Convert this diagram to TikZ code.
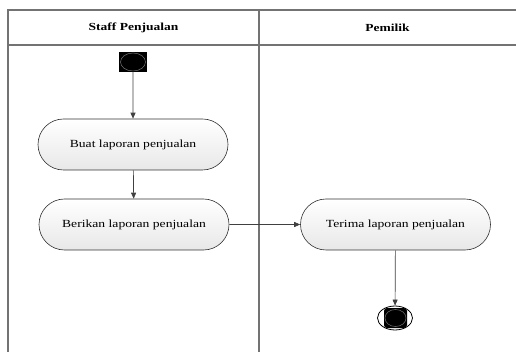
\documentclass[tikz,border=0pt]{standalone}
\usepackage{fontspec}
\setmainfont{Liberation Serif}[FakeStretch=1.25]
\usetikzlibrary{arrows.meta,shapes.misc,shapes.geometric}
\begin{document}
\begin{tikzpicture}[x=1pt,y=-1pt,
  frame/.style={draw=black!55,line width=1.1pt},
  lane/.style={font=\fontsize{10.8}{12}\selectfont\bfseries},
  act/.style={draw=black!80,line width=0.6pt,rounded rectangle,minimum width=190pt,minimum height=51pt,
    top color=white,bottom color=black!9,font=\fontsize{10.9}{12}\selectfont,inner sep=0pt},
  flow/.style={draw=black!75,line width=0.7pt,-{Triangle[length=6pt,width=5pt]}}]
\useasboundingbox (0,0) rectangle (516,352);
% swimlanes
\coordinate (tl) at (8,10);
\coordinate (tr) at (516,10);
\coordinate (hl) at (8,45);
\coordinate (hr) at (516,45);
\coordinate (bl) at (8,352);
\coordinate (dt) at (259,10);
\coordinate (db) at (259,352);
\draw[frame] (tr) -- (tl) -- (bl);
\draw[frame] (hl) -- (hr);
\draw[frame] (dt) -- (db);
\node[lane] (l1) at (133.5,28) {Staff Penjualan};
\node[lane] (l2) at (387.5,28) {Pemilik};
% start
\node[fill=black,minimum width=28pt,minimum height=20pt,inner sep=0pt] (start) at (133,62) {};
\node[draw=black!55,ellipse,minimum width=25pt,minimum height=18pt,inner sep=0pt,line width=0.5pt] (starti) at (133,62) {};
% activities
\node[act] (buat) at (133,144.5) {Buat laporan penjualan};
\node[act] (beri) at (134,224.5) {Berikan laporan penjualan};
\node[act] (terima) at (395.5,224.5) {Terima laporan penjualan};
% end
\node[draw=black,ellipse,line width=0.8pt,minimum width=35pt,minimum height=24pt,inner sep=0pt] (end) at (395,318) {};
\node[fill=black,rounded corners=3pt,minimum width=23pt,minimum height=20pt,inner sep=0pt] (endi) at (395.5,318) {};
\node[draw=black!55,ellipse,minimum width=21pt,minimum height=17pt,inner sep=0pt,line width=0.5pt] (endii) at (395.5,318) {};
% flows
\draw[flow] (start) -- (buat);
\draw[flow] (buat) -- (beri);
\draw[flow] (beri) -- (terima);
\draw[flow] (terima) -- (end);
\end{tikzpicture}
\end{document}
